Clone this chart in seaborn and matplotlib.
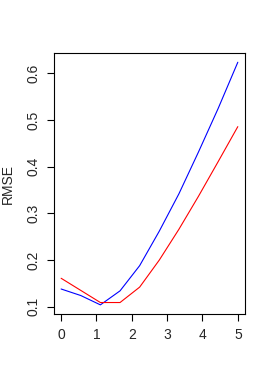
import numpy as np
import pandas as pd
import seaborn as sns
import matplotlib
matplotlib.use("Agg")
import matplotlib.pyplot as plt

# x grid: 10 evenly spaced points from 0 to 5
x_vals = [0.0, 0.556, 1.111, 1.667, 2.222, 2.778, 3.333, 3.889, 4.444, 5.0]
rmse_blue = [0.138, 0.124, 0.104, 0.134, 0.188, 0.262, 0.342, 0.432, 0.525, 0.624]
rmse_red = [0.161, 0.135, 0.109, 0.109, 0.142, 0.200, 0.266, 0.337, 0.411, 0.486]

df = pd.DataFrame({
    "x": x_vals * 2,
    "RMSE": rmse_blue + rmse_red,
    "series": ["blue"] * len(x_vals) + ["red"] * len(x_vals),
})

sns.set_style("ticks")
plt.rcParams["font.family"] = ["Liberation Sans", "DejaVu Sans"]

fig = plt.figure(figsize=(2.73, 3.82), dpi=100)
ax = fig.add_axes([0.198, 0.178, 0.699, 0.683])

sns.lineplot(data=df, x="x", y="RMSE", hue="series",
             palette={"blue": "#0000ff", "red": "#ff0000"},
             linewidth=0.8, legend=False, ax=ax, sort=False)

ax.set_xlim(-0.2, 5.2)
ax.set_ylim(0.0844, 0.6436)
ax.set_xticks([0, 1, 2, 3, 4, 5])
ax.set_yticks([0.1, 0.2, 0.3, 0.4, 0.5, 0.6])
ax.set_xlabel("")
ax.set_ylabel("RMSE", fontsize=10, labelpad=8)

for s in ax.spines.values():
    s.set_visible(True)
    s.set_color("black")
    s.set_linewidth(0.8)

ax.tick_params(axis="both", direction="out", length=5, width=0.8,
               color="black", labelsize=10, pad=5)
for lab in ax.get_yticklabels():
    lab.set_rotation(90)
    lab.set_va("center")

fig.savefig("out.png", dpi=100)
